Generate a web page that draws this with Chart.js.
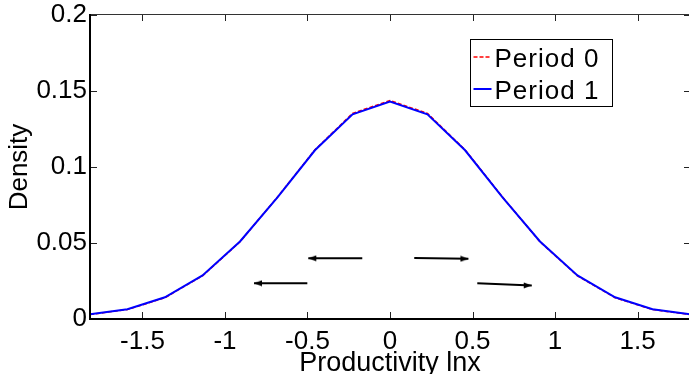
<!DOCTYPE html>
<html>
<head>
<meta charset="utf-8">
<script src="https://cdn.jsdelivr.net/npm/chart.js@4"></script>
<style>
html,body{margin:0;padding:0;overflow:hidden;background:#fff;}
#wrap{position:relative;width:690px;height:374px;}
</style>
</head>
<body>
<div id="wrap"><canvas id="c" width="690" height="374"></canvas></div>
<script>
// ---- data ----
const xValues = [-1.818, -1.591, -1.364, -1.136, -0.909, -0.682, -0.455, -0.227, 0, 0.227, 0.455, 0.682, 0.909, 1.136, 1.364, 1.591, 1.818];
const period0 = [0.0030, 0.0062, 0.0140, 0.0284, 0.0508, 0.0802, 0.1113, 0.1353, 0.1437, 0.1353, 0.1113, 0.0802, 0.0508, 0.0284, 0.0140, 0.0062, 0.0030];
const period1 = [0.0031, 0.0064, 0.0143, 0.0287, 0.0510, 0.0800, 0.1110, 0.1347, 0.1430, 0.1347, 0.1110, 0.0800, 0.0510, 0.0287, 0.0143, 0.0064, 0.0031];
const seriesNames = ['Period 0', 'Period 1'];
const xTickValues = [-1.5, -1, -0.5, 0, 0.5, 1, 1.5];
const xTickLabels = ['-1.5', '-1', '-0.5', '0', '0.5', '1', '1.5'];
const yTickValues = [0, 0.05, 0.1, 0.15, 0.2];
const yTickLabels = ['0', '0.05', '0.1', '0.15', '0.2'];
const xRange = [-1.818, 1.818];
const yRange = [0, 0.2];
// arrows (data coordinates)
const arrowTailX = [-0.168, -0.501, 0.147, 0.529];
const arrowTailY = [0.0399, 0.0235, 0.0402, 0.0235];
const arrowTipX  = [-0.495, -0.824, 0.475, 0.859];
const arrowTipY  = [0.0399, 0.0235, 0.0396, 0.0221];

// ---- arrow head image ----
const head = document.createElement('canvas');
head.width = 18; head.height = 7;
(function(){
  const g = head.getContext('2d');
  g.fillStyle = '#000';
  g.beginPath();
  g.moveTo(1, 0.6);
  g.lineTo(9, 3.5);
  g.lineTo(1, 6.4);
  g.closePath();
  g.fill();
})();

const FONT = "'Liberation Sans', Arial, sans-serif";

const datasets = [
  {
    label: seriesNames[0],
    data: xValues.map((x, i) => ({x, y: period0[i]})),
    showLine: true, borderColor: '#ff0000', backgroundColor: '#ff0000',
    borderWidth: 1.5, borderDash: [4, 2], pointRadius: 0, order: 2, tension: 0
  },
  {
    label: seriesNames[1],
    data: xValues.map((x, i) => ({x, y: period1[i]})),
    showLine: true, borderColor: '#0000ff', backgroundColor: '#0000ff',
    borderWidth: 2, pointRadius: 0, order: 1, tension: 0
  }
];
arrowTailX.forEach((tx, i) => {
  const left = arrowTipX[i] < tx;
  datasets.push({
    label: 'arrow' + i,
    isArrow: true,
    data: [{x: tx, y: arrowTailY[i]}, {x: arrowTipX[i], y: arrowTipY[i]}],
    showLine: true, borderColor: '#000', backgroundColor: '#000', borderWidth: 2,
    pointRadius: [0, 5], pointStyle: head, rotation: left ? 180 : 0,
    pointHoverRadius: 0, order: 0
  });
});

const framePlugin = {
  id: 'frame',
  afterDatasetsDraw(chart) {
    const {ctx, chartArea: a, scales} = chart;
    const xs = scales.x, ys = scales.y;
    ctx.save();
    ctx.lineWidth = 1;
    ctx.strokeStyle = '#333';
    ctx.beginPath();
    ctx.moveTo(a.left, a.top - 0.5); ctx.lineTo(a.right, a.top - 0.5);
    ctx.moveTo(a.right - 0.5, a.top); ctx.lineTo(a.right - 0.5, a.bottom);
    ctx.stroke();
    ctx.strokeStyle = '#222';
    ctx.beginPath();
    xTickValues.forEach(v => {
      const px = Math.round(xs.getPixelForValue(v)) + 0.5;
      ctx.moveTo(px, a.bottom); ctx.lineTo(px, a.bottom - 7);
      ctx.moveTo(px, a.top); ctx.lineTo(px, a.top + 6);
    });
    yTickValues.forEach(v => {
      const py = Math.round(ys.getPixelForValue(v)) + 0.5;
      ctx.moveTo(a.left, py); ctx.lineTo(a.left + 7, py);
      ctx.moveTo(a.right, py); ctx.lineTo(a.right - 6, py);
    });
    ctx.stroke();
    ctx.strokeStyle = '#000';
    ctx.lineWidth = 2;
    ctx.beginPath();
    ctx.moveTo(a.left, a.top - 1); ctx.lineTo(a.left, a.bottom);
    ctx.lineTo(a.right, a.bottom);
    ctx.stroke();
    ctx.restore();
  },
  afterDraw(chart) {
    const {ctx, chartArea: a} = chart;
    const bx = a.right - 219.5, by = a.top + 24.5, bw = 142, bh = 67;
    ctx.save();
    ctx.fillStyle = '#fff';
    ctx.fillRect(bx, by, bw, bh);
    ctx.strokeStyle = '#000';
    ctx.lineWidth = 1;
    ctx.strokeRect(bx, by, bw, bh);
    const items = chart.data.datasets.filter(d => !d.isArrow);
    items.forEach((d, i) => {
      const cy = by + 17.5 + i * 32;
      ctx.strokeStyle = d.borderColor;
      ctx.lineWidth = d.borderWidth;
      ctx.setLineDash(d.borderDash || []);
      ctx.beginPath();
      ctx.moveTo(bx + 3, cy); ctx.lineTo(bx + 21, cy);
      ctx.stroke();
      ctx.setLineDash([]);
      ctx.fillStyle = '#000';
      ctx.font = '26px ' + FONT;
      try { ctx.letterSpacing = '1px'; } catch (e) {}
      ctx.textBaseline = 'alphabetic';
      ctx.textAlign = 'left';
      ctx.fillText(d.label, bx + 24, cy + 9.5);
    });
    ctx.restore();
  }
};

new Chart(document.getElementById('c'), {
  type: 'scatter',
  data: {datasets},
  options: {
    responsive: false,
    animation: false,
    events: [],
    layout: {autoPadding: false, padding: {top: 15, right: 0, left: 0, bottom: 0}},
    plugins: {legend: {display: false}, tooltip: {enabled: false}},
    scales: {
      x: {
        type: 'linear', min: xRange[0], max: xRange[1],
        afterBuildTicks: s => { s.ticks = xTickValues.map(v => ({value: v})); },
        afterFit: s => { s.height = 55; s.paddingLeft = 0; s.paddingRight = 0; },
        grid: {display: false, drawTicks: false},
        border: {display: false},
        ticks: {
          autoSkip: false, maxRotation: 0, padding: 10, color: '#000',
          font: {family: FONT, size: 26, lineHeight: 1},
          callback: (v) => { const i = xTickValues.indexOf(v); return i >= 0 ? xTickLabels[i] : ''; }
        },
        title: {display: true, text: 'Productivity lnx', color: '#000',
          font: {family: FONT, size: 27, lineHeight: 1}, padding: {top: 0, bottom: -3}}
      },
      y: {
        type: 'linear', min: yRange[0], max: yRange[1],
        afterBuildTicks: s => { s.ticks = yTickValues.map(v => ({value: v})); },
        afterFit: s => { s.width = 90; s.paddingTop = 0; s.paddingBottom = 0; },
        grid: {display: false, drawTicks: false},
        border: {display: false},
        ticks: {
          autoSkip: false, padding: 3, color: '#000',
          font: {family: FONT, size: 26, lineHeight: 1.2},
          callback: (v) => { const i = yTickValues.indexOf(v); return i >= 0 ? yTickLabels[i] : ''; }
        },
        title: {display: true, text: 'Density', color: '#000',
          font: {family: FONT, size: 26, lineHeight: 1.2}, padding: {top: 4, bottom: 0}}
      }
    }
  },
  plugins: [framePlugin]
});
</script>
</body>
</html>
